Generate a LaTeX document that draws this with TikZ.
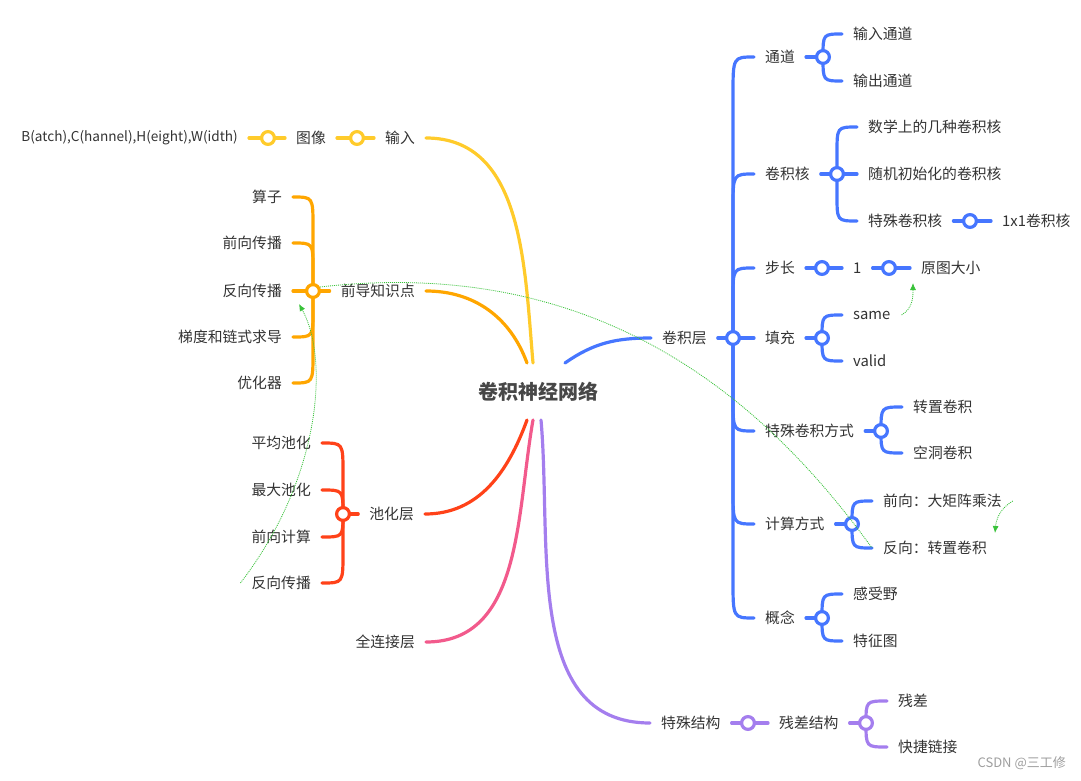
\documentclass[tikz,border=0pt]{standalone}
\usepackage{fontspec}
\setmainfont{Noto Sans CJK SC}
\usetikzlibrary{calc,arrows.meta}

\definecolor{ink}{HTML}{333333}
\definecolor{cYel}{HTML}{FFCB2B}
\definecolor{cOra}{HTML}{FFA600}
\definecolor{cRed}{HTML}{FF4219}
\definecolor{cPink}{HTML}{F25A8C}
\definecolor{cPur}{HTML}{A47EEE}
\definecolor{cBlue}{HTML}{4676FF}
\definecolor{hintgreen}{HTML}{39C23A}

\pgfdeclarelayer{bg}
\pgfsetlayers{bg,main}

\tikzset{
  txt/.style={font=\fontsize{14.8}{18}\selectfont, text=ink, inner xsep=11pt, inner ysep=2pt},
  hub/.style={circle, draw=#1, fill=white, line width=3.2pt, minimum size=12.8pt, inner sep=0pt},
  br/.style={draw=#1, line width=3.2pt, line cap=round},
  hint/.style={draw=hintgreen, line width=0.8pt, dash pattern=on 1pt off 1pt},
  hinttip/.style={hint, -{Latex[length=7pt,width=6pt]}},
}
% hub -> near child: one soft bend
\newcommand{\twig}[3]{\draw[br=#1] (#2.center) .. controls (#2.center |- #3) .. (#3);}
% hub -> far child: upright run, then the bend
\newcommand{\limb}[4]{\draw[br=#1] (#2.center) -- ($(#2.center |- #3)!#4!(#2.center)$) .. controls (#2.center |- #3) .. (#3);}

\begin{document}
\begin{tikzpicture}[x=1pt,y=1pt]
    \useasboundingbox (0,0) rectangle (1081,-781);

    \node[font=\bfseries\fontsize{20}{24}\selectfont, text=ink!90, inner sep=0pt] (root) at (538,-392) {卷积神经网络};
    \coordinate (rYel) at ($(root)+(-5,29)$);
    \coordinate (rOra) at ($(root)+(-11,29)$);
    \coordinate (rBlue) at ($(root)+(27,29)$);
    \coordinate (rRed) at ($(root)+(-11,-28)$);
    \coordinate (rPink) at ($(root)+(-5,-28)$);
    \coordinate (rPur) at ($(root)+(3,-28)$);

    % input
    \node[txt, anchor=east] (inp) at (426,-138) {输入};
    \node[hub=cYel] (inphub) at (357,-138) {};
    \node[txt, anchor=east] (img) at (337,-138) {图像};
    \node[hub=cYel] (imghub) at (268,-138) {};
    \node[txt, anchor=east, font=\fontsize{13.6}{18}\selectfont] (bchw) at (249,-138) {B(atch),C(hannel),H(eight),W(idth)};

    % prior knowledge
    \node[txt, anchor=east] (pre) at (426,-291) {前导知识点};
    \node[hub=cOra] (prehub) at (313,-291) {};
    \node[txt, anchor=east] (op) at (293,-197) {算子};
    \node[txt, anchor=east] (fwdp) at (293,-243) {前向传播};
    \node[txt, anchor=east] (bwdp) at (293,-291) {反向传播};
    \node[txt, anchor=east] (grad) at (293,-337) {梯度和链式求导};
    \node[txt, anchor=east] (opt) at (293,-383) {优化器};

    % pooling
    \node[txt, anchor=east] (pool) at (425,-514) {池化层};
    \node[hub=cRed] (poolhub) at (343,-514) {};
    \node[txt, anchor=east] (avg) at (322,-443) {平均池化};
    \node[txt, anchor=east] (maxp) at (322,-490) {最大池化};
    \node[txt, anchor=east] (pfwd) at (322,-537) {前向计算};
    \node[txt, anchor=east] (pbwd) at (322,-583) {反向传播};

    \node[txt, anchor=east] (fc) at (426,-642) {全连接层};

    % convolution layer
    \node[txt, anchor=west] (conv) at (651,-338) {卷积层};
    \node[hub=cBlue] (convhub) at (733,-338) {};
    \node[txt, anchor=west] (ch) at (754,-57) {通道};
    \node[txt, anchor=west] (kern) at (754,-174) {卷积核};
    \node[txt, anchor=west] (stride) at (754,-268) {步长};
    \node[txt, anchor=west] (pad) at (754,-338) {填充};
    \node[txt, anchor=west] (spconv) at (754,-431) {特殊卷积方式};
    \node[txt, anchor=west] (comp) at (754,-524) {计算方式};
    \node[txt, anchor=west] (concept) at (754,-618) {概念};

    \node[hub=cBlue] (chhub) at (823,-57) {};
    \node[txt, anchor=west] (chin) at (842,-34) {输入通道};
    \node[txt, anchor=west] (chout) at (842,-81) {输出通道};

    \node[hub=cBlue] (kernhub) at (837,-174) {};
    \node[txt, anchor=west] (kmath) at (857,-127) {数学上的几种卷积核};
    \node[txt, anchor=west] (krand) at (857,-174) {随机初始化的卷积核};
    \node[txt, anchor=west] (kspec) at (857,-221) {特殊卷积核};
    \node[hub=cBlue] (kspechub) at (970,-221) {};
    \node[txt, anchor=west] (kone) at (991,-221) {1x1卷积核};

    \node[hub=cBlue] (stridehub) at (822,-268) {};
    \node[txt, anchor=west] (one) at (842,-268) {1};
    \node[hub=cBlue] (onehub) at (889,-268) {};
    \node[txt, anchor=west] (orig) at (910,-268) {原图大小};

    \node[hub=cBlue] (padhub) at (822,-338) {};
    \node[txt, anchor=west] (same) at (842,-315) {same};
    \node[txt, anchor=west] (valid) at (842,-361) {valid};

    \node[hub=cBlue] (spconvhub) at (881,-431) {};
    \node[txt, anchor=west] (trans) at (902,-407) {转置卷积};
    \node[txt, anchor=west] (dil) at (902,-453) {空洞卷积};

    \node[hub=cBlue] (comphub) at (852,-524) {};
    \node[txt, anchor=west] (fwd) at (872,-501) {前向：大矩阵乘法};
    \node[txt, anchor=west] (bwd) at (872,-548) {反向：转置卷积};

    \node[hub=cBlue] (concepthub) at (822,-618) {};
    \node[txt, anchor=west] (rf) at (842,-594) {感受野};
    \node[txt, anchor=west] (fmap) at (842,-641) {特征图};

    % special structure
    \node[txt, anchor=west] (spec) at (650,-723) {特殊结构};
    \node[hub=cPur] (spechub) at (748,-723) {};
    \node[txt, anchor=west] (res) at (768,-723) {残差结构};
    \node[hub=cPur] (reshub) at (866,-723) {};
    \node[txt, anchor=west] (rs) at (887,-701) {残差};
    \node[txt, anchor=west] (sc) at (887,-747) {快捷链接};

    \node[font=\fontsize{13}{15}\selectfont, text=black!38, anchor=east, inner sep=0pt] (mark) at (1066,-763) {CSDN @三工修};

    \begin{pgfonlayer}{bg}
    \draw[br=cYel] (rYel) to[out=95,in=0] (inp.east);
    \draw[br=cYel] (inp.west) -- (img.east);
    \draw[br=cYel] (img.west) -- (bchw.east);

    \draw[br=cOra] (rOra) to[out=110,in=0] (pre.east);
    \draw[br=cOra] (pre.west) -- (prehub.center);
    \limb{cOra}{prehub}{op.east}{30pt}
    \limb{cOra}{prehub}{fwdp.east}{26pt}
    \draw[br=cOra] (prehub.center) -- (bwdp.east);
    \limb{cOra}{prehub}{grad.east}{26pt}
    \limb{cOra}{prehub}{opt.east}{30pt}

    \draw[br=cRed] (rRed) to[out=-110,in=0] (pool.east);
    \draw[br=cRed] (pool.west) -- (poolhub.center);
    \limb{cRed}{poolhub}{avg.east}{30pt}
    \twig{cRed}{poolhub}{maxp.east}
    \twig{cRed}{poolhub}{pfwd.east}
    \limb{cRed}{poolhub}{pbwd.east}{30pt}

    \draw[br=cPink] (rPink) to[out=-100,in=0] (fc.east);

    \draw[br=cBlue] (rBlue) to[out=35,in=180] (conv.west);
    \draw[br=cBlue] (conv.east) -- (convhub.center);
    \limb{cBlue}{convhub}{ch.west}{38pt}
    \limb{cBlue}{convhub}{kern.west}{34pt}
    \limb{cBlue}{convhub}{stride.west}{30pt}
    \draw[br=cBlue] (convhub.center) -- (pad.west);
    \limb{cBlue}{convhub}{spconv.west}{32pt}
    \limb{cBlue}{convhub}{comp.west}{34pt}
    \limb{cBlue}{convhub}{concept.west}{38pt}

    \draw[br=cBlue] (ch.east) -- (chhub.center);
    \twig{cBlue}{chhub}{chin.west}
    \twig{cBlue}{chhub}{chout.west}

    \draw[br=cBlue] (kern.east) -- (kernhub.center);
    \limb{cBlue}{kernhub}{kmath.west}{26pt}
    \draw[br=cBlue] (kernhub.center) -- (krand.west);
    \limb{cBlue}{kernhub}{kspec.west}{26pt}
    \draw[br=cBlue] (kspec.east) -- (kone.west);

    \draw[br=cBlue] (stride.east) -- (one.west);
    \draw[br=cBlue] (one.east) -- (orig.west);

    \draw[br=cBlue] (pad.east) -- (padhub.center);
    \twig{cBlue}{padhub}{same.west}
    \twig{cBlue}{padhub}{valid.west}

    \draw[br=cBlue] (spconv.east) -- (spconvhub.center);
    \twig{cBlue}{spconvhub}{trans.west}
    \twig{cBlue}{spconvhub}{dil.west}

    \draw[br=cBlue] (comp.east) -- (comphub.center);
    \twig{cBlue}{comphub}{fwd.west}
    \twig{cBlue}{comphub}{bwd.west}

    \draw[br=cBlue] (concept.east) -- (concepthub.center);
    \twig{cBlue}{concepthub}{rf.west}
    \twig{cBlue}{concepthub}{fmap.west}

    \draw[br=cPur] (rPur) to[out=-85,in=180] (spec.west);
    \draw[br=cPur] (spec.east) -- (res.west);
    \draw[br=cPur] (res.east) -- (reshub.center);
    \twig{cPur}{reshub}{rs.west}
    \twig{cPur}{reshub}{sc.west}
    \end{pgfonlayer}

    % green hints
    \draw[hint] (prehub.30) .. controls (600,-255) and (765,-400) .. (bwd.west);
    \draw[hinttip] (pbwd.west) .. controls (320,-480) and (330,-360) .. ($(bwdp.east)+(6,-13)$);
    \draw[hinttip] (same.east) to[out=30,in=-90] ($(orig.south west)+(3,-6)$);
    \draw[hinttip] (fwd.east) to[out=210,in=85] ($(bwd.east)+(-3,15)$);
\end{tikzpicture}
\end{document}
